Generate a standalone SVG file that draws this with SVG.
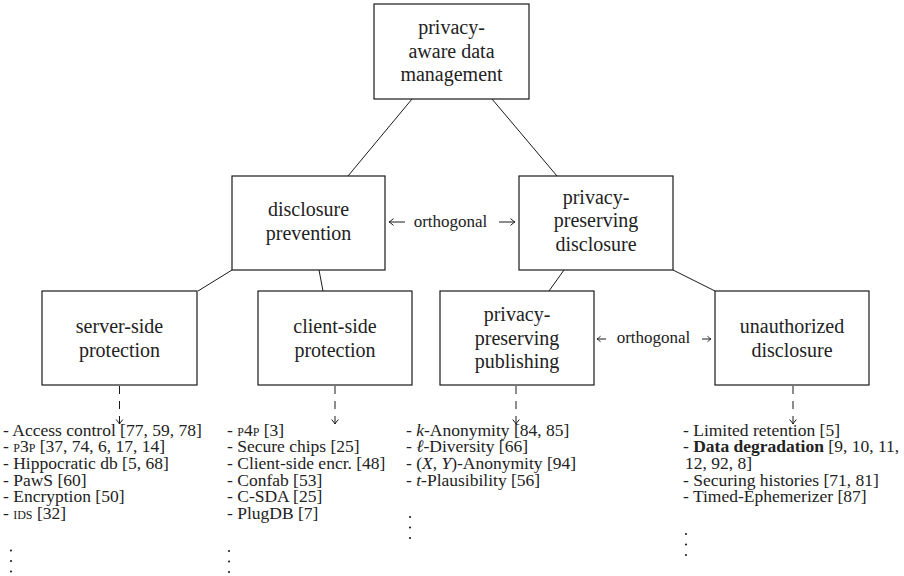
<svg xmlns="http://www.w3.org/2000/svg" width="904" height="576" viewBox="0 0 904 576">
  <style>
    .box { fill: #ffffff; stroke: #1a1a1a; stroke-width: 1.2; }
    .edge { stroke: #1a1a1a; stroke-width: 1; fill: none; }
    .dash { stroke: #1a1a1a; stroke-width: 1; fill: none; stroke-dasharray: 8 7; }
    .lbl { font-family: "Liberation Serif", "DejaVu Serif", serif; font-size: 20px; fill: #222; text-anchor: middle; }
    .item { font-family: "Liberation Serif", "DejaVu Serif", serif; font-size: 17.5px; fill: #222; }
    .orth { font-family: "Liberation Serif", "DejaVu Serif", serif; font-size: 17px; fill: #222; text-anchor: middle; }
    .sc { font-variant: small-caps; }
    .dot { fill: #222; }
  </style>
  <defs>
    <marker id="tip" markerUnits="userSpaceOnUse" markerWidth="12" markerHeight="12" refX="0" refY="0" viewBox="-6 -6 12 12" orient="auto">
      <path d="M-4.5,-3.4 Q-1.4,-0.7 0,0 Q-1.4,0.7 -4.5,3.4" stroke="#1a1a1a" stroke-width="1" fill="none"/>
    </marker>
    <marker id="tipsm" markerUnits="userSpaceOnUse" markerWidth="10" markerHeight="10" refX="0" refY="0" viewBox="-5 -5 10 10" orient="auto">
      <path d="M-3.6,-2.8 Q-1.1,-0.6 0,0 Q-1.1,0.6 -3.6,2.8" stroke="#1a1a1a" stroke-width="0.9" fill="none"/>
    </marker>
  </defs>

  <rect width="904" height="576" fill="#ffffff"/>

  <!-- tree edges, "orthogonal" relations and dashed leads to the reference lists -->
  <g id="connectors">
    <line class="edge" x1="412" y1="99" x2="348" y2="176"/>
    <line class="edge" x1="492" y1="99" x2="557" y2="176"/>
    <line class="edge" x1="232" y1="270" x2="198" y2="291"/>
    <line class="edge" x1="319" y1="270" x2="323" y2="291"/>
    <line class="edge" x1="564" y1="270" x2="549" y2="291"/>
    <line class="edge" x1="673" y1="270" x2="715" y2="291"/>
    <line class="dash" x1="119.5" y1="386" x2="119.5" y2="424" marker-end="url(#tip)"/>
    <line class="dash" x1="335" y1="386" x2="335" y2="424" marker-end="url(#tip)"/>
    <line class="dash" x1="516" y1="386" x2="516" y2="424" marker-end="url(#tip)"/>
    <line class="dash" x1="793" y1="386" x2="793" y2="424" marker-end="url(#tip)"/>

    <line class="edge" x1="405" y1="222" x2="389" y2="222" marker-end="url(#tip)"/>
    <text class="orth" x="450.5" y="227">orthogonal</text>
    <line class="edge" x1="499" y1="222" x2="515" y2="222" marker-end="url(#tip)"/>

    <line class="edge" x1="606" y1="339" x2="597" y2="339" marker-end="url(#tipsm)"/>
    <text class="orth" x="653.5" y="343">orthogonal</text>
    <line class="edge" x1="702" y1="339" x2="711" y2="339" marker-end="url(#tipsm)"/>
  </g>

  <g id="root">
    <rect class="box" x="374" y="4" width="155" height="95"/>
    <text class="lbl" x="451.5" y="34">privacy-</text>
    <text class="lbl" x="451.5" y="57.5">aware data</text>
    <text class="lbl" x="451.5" y="81">management</text>
  </g>

  <g id="disclosure-prevention">
    <rect class="box" x="232" y="176" width="153" height="94"/>
    <text class="lbl" x="308.5" y="216">disclosure</text>
    <text class="lbl" x="308.5" y="239.5">prevention</text>
  </g>

  <g id="privacy-preserving-disclosure">
    <rect class="box" x="519" y="176" width="154" height="94"/>
    <text class="lbl" x="596" y="203.5">privacy-</text>
    <text class="lbl" x="596" y="227">preserving</text>
    <text class="lbl" x="596" y="250.5">disclosure</text>
  </g>

  <g id="server-side-protection">
    <rect class="box" x="42" y="291" width="155" height="94"/>
    <text class="lbl" x="119.5" y="333">server-side</text>
    <text class="lbl" x="119.5" y="356.5">protection</text>
  </g>

  <g id="client-side-protection">
    <rect class="box" x="258" y="291" width="154" height="94"/>
    <text class="lbl" x="335" y="333">client-side</text>
    <text class="lbl" x="335" y="356.5">protection</text>
  </g>

  <g id="privacy-preserving-publishing">
    <rect class="box" x="440" y="291" width="154" height="94"/>
    <text class="lbl" x="517" y="321">privacy-</text>
    <text class="lbl" x="517" y="344.5">preserving</text>
    <text class="lbl" x="517" y="368">publishing</text>
  </g>

  <g id="unauthorized-disclosure">
    <rect class="box" x="715" y="291" width="154" height="94"/>
    <text class="lbl" x="792" y="333">unauthorized</text>
    <text class="lbl" x="792" y="356.5">disclosure</text>
  </g>

  <!-- reference lists -->
  <g id="server-side-list">
    <text class="item" x="3" y="435.5">- Access control [77, 59, 78]</text>
    <text class="item" x="3" y="452.2">- <tspan class="sc">p3p</tspan> [37, 74, 6, 17, 14]</text>
    <text class="item" x="3" y="468.9">- Hippocratic db [5, 68]</text>
    <text class="item" x="3" y="485.6">- PawS [60]</text>
    <text class="item" x="3" y="502.3">- Encryption [50]</text>
    <text class="item" x="3" y="519">- <tspan class="sc">ids</tspan> [32]</text>
    <circle class="dot" cx="11" cy="550.5" r="1.1"/>
    <circle class="dot" cx="11" cy="561" r="1.1"/>
    <circle class="dot" cx="11" cy="571.5" r="1.1"/>
  </g>

  <g id="client-side-list">
    <text class="item" x="227" y="435.5">- <tspan class="sc">p4p</tspan> [3]</text>
    <text class="item" x="227" y="452.2">- Secure chips [25]</text>
    <text class="item" x="227" y="468.9">- Client-side encr. [48]</text>
    <text class="item" x="227" y="485.6">- Confab [53]</text>
    <text class="item" x="227" y="502.3">- C-SDA [25]</text>
    <text class="item" x="227" y="519">- PlugDB [7]</text>
    <circle class="dot" cx="229" cy="551" r="1.1"/>
    <circle class="dot" cx="229" cy="561.5" r="1.1"/>
    <circle class="dot" cx="229" cy="572" r="1.1"/>
  </g>

  <g id="publishing-list">
    <text class="item" x="406" y="435.5">- <tspan font-style="italic">k</tspan>-Anonymity [84, 85]</text>
    <text class="item" x="406" y="452.2">- <tspan font-style="italic">ℓ</tspan>-Diversity [66]</text>
    <text class="item" x="406" y="468.9">- (<tspan font-style="italic">X</tspan>, <tspan font-style="italic">Y</tspan>)-Anonymity [94]</text>
    <text class="item" x="406" y="485.6">- <tspan font-style="italic">t</tspan>-Plausibility [56]</text>
    <circle class="dot" cx="410" cy="517" r="1.1"/>
    <circle class="dot" cx="410" cy="527.5" r="1.1"/>
    <circle class="dot" cx="410" cy="538" r="1.1"/>
  </g>

  <g id="unauthorized-list">
    <text class="item" x="683" y="435.5">- Limited retention [5]</text>
    <text class="item" x="683" y="452.2">- <tspan font-weight="bold">Data degradation</tspan> [9, 10, 11,</text>
    <text class="item" x="685" y="468.9">12, 92, 8]</text>
    <text class="item" x="683" y="485.6">- Securing histories [71, 81]</text>
    <text class="item" x="683" y="502.3">- Timed-Ephemerizer [87]</text>
    <circle class="dot" cx="686" cy="534" r="1.1"/>
    <circle class="dot" cx="686" cy="544.5" r="1.1"/>
    <circle class="dot" cx="686" cy="555" r="1.1"/>
  </g>
</svg>
